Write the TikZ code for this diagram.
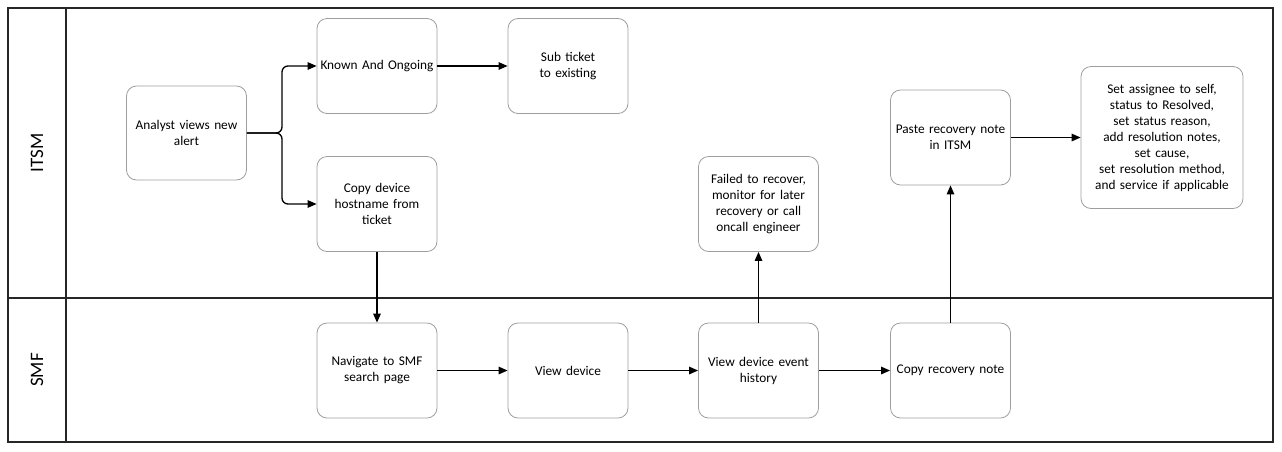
\documentclass[tikz,border=0pt]{standalone}
\usepackage{fontspec}
\setmainfont{Carlito}
\usetikzlibrary{arrows.meta}

\tikzset{
	task/.style={draw=black!38, line width=0.8pt, rounded corners=10pt, minimum width=120pt, minimum height=95pt, text width=116pt, align=center, inner sep=0pt, font=\fontsize{13.3}{16}\selectfont},
	flow/.style={-{Triangle[length=9pt,width=7.5pt]}, line width=1.3pt},
	lane/.style={line width=1.8pt, draw=black!85},
	lanename/.style={rotate=90, font=\fontsize{19}{22}\selectfont}
}

\begin{document}
\begin{tikzpicture}[x=1pt,y=-1pt]
					\useasboundingbox (0,0) rectangle (1282,451);

					\draw[lane] (8,8) rectangle (1273,442);
					\draw[lane] (66,8) -- (66,442);
					\draw[lane] (8,298) -- (1273,298);

					\node[lanename] (itsm) at (37,153) {ITSM};
					\node[lanename] (smf) at (37,370) {SMF};

					\node[task, minimum height=94pt] (alert) at (186.5,133) {Analyst views new\\alert};
					\node[task] (known) at (377,66) {Known And Ongoing};
					\node[task] (hostname) at (377,204) {Copy device\\hostname from\\ticket};
					\node[task] (subticket) at (568,66) {Sub ticket\\to existing};
					\node[task] (failed) at (758.5,204) {Failed to recover,\\monitor for later\\recovery or call\\oncall engineer};
					\node[task] (paste) at (950.5,137.5) {Paste recovery note\\in ITSM};
					\node[task, minimum width=162pt, minimum height=142pt, text width=158pt] (resolve) at (1162,137.5) {Set assignee to self,\\status to Resolved,\\set status reason,\\add resolution notes,\\set cause,\\set resolution method,\\and service if applicable};

					\node[task] (navigate) at (377,370.5) {Navigate to SMF\\search page};
					\node[task] (viewdevice) at (568,370.5) {View device};
					\node[task] (history) at (758.5,370.5) {View device event\\history};
					\node[task] (copynote) at (950.5,370.5) {Copy recovery note};

					\draw[flow, rounded corners=6pt] (alert.east) -- (282,133) |- (known.west);
					\draw[flow, rounded corners=6pt] (alert.east) -- (282,133) |- (hostname.west);
					\draw[flow] (known) -- (subticket);
					\draw[flow] (hostname) -- (navigate);
					\draw[flow] (navigate) -- (viewdevice);
					\draw[flow] (viewdevice) -- (history);
					\draw[flow] (history) -- (copynote);
					\draw[flow] (history) -- (failed);
					\draw[flow] (copynote) -- (paste);
					\draw[flow] (paste) -- (resolve);

				\end{tikzpicture}
\end{document}
